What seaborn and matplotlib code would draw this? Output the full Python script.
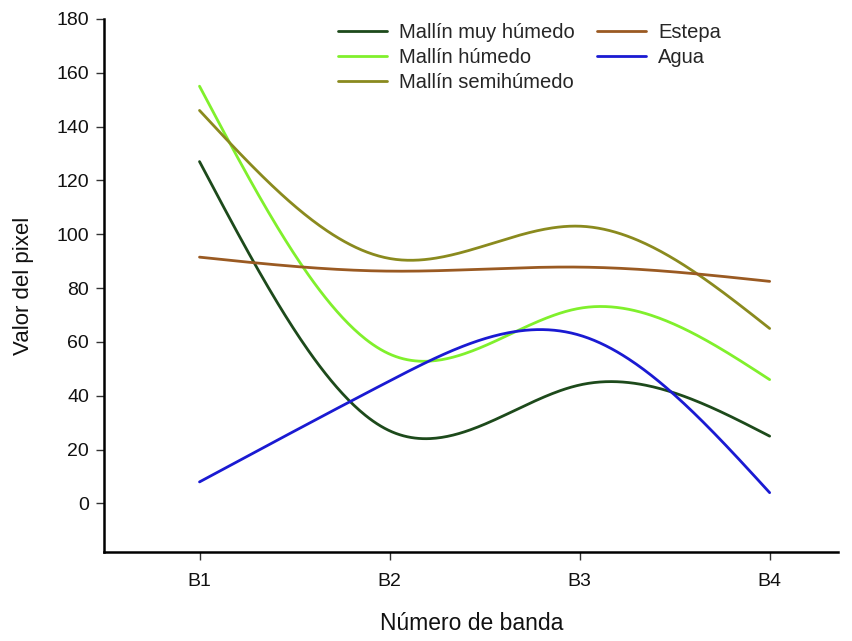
import numpy as np
import pandas as pd
import matplotlib
matplotlib.use("Agg")
import matplotlib.pyplot as plt
import seaborn as sns

bands = ["B1", "B2", "B3", "B4"]
series_names = ["Mallín muy húmedo", "Mallín húmedo", "Mallín semihúmedo", "Estepa", "Agua"]
muy_humedo = [127, 27, 44, 25]
humedo = [155, 55.5, 72.5, 46]
semihumedo = [146, 91, 103, 65]
estepa = [91.5, 86.3, 87.8, 82.5]
agua = [8, 45.5, 62.5, 4]
colors = ["#1d4a1b", "#80f02c", "#8a8a1e", "#9a5a22", "#1a1ad2"]


def natural_spline(x, y, n=300):
    x = np.asarray(x, float); y = np.asarray(y, float)
    k = len(x); h = np.diff(x)
    A = np.zeros((k, k)); r = np.zeros(k)
    A[0, 0] = A[-1, -1] = 1
    for i in range(1, k - 1):
        A[i, i - 1] = h[i - 1]; A[i, i] = 2 * (h[i - 1] + h[i]); A[i, i + 1] = h[i]
        r[i] = 6 * ((y[i + 1] - y[i]) / h[i] - (y[i] - y[i - 1]) / h[i - 1])
    M = np.linalg.solve(A, r)
    xs = np.linspace(x[0], x[-1], n)
    idx = np.clip(np.searchsorted(x, xs) - 1, 0, k - 2)
    x0, x1 = x[idx], x[idx + 1]; hh = x1 - x0
    ys = (M[idx] * (x1 - xs) ** 3 / (6 * hh) + M[idx + 1] * (xs - x0) ** 3 / (6 * hh)
          + (y[idx] / hh - M[idx] * hh / 6) * (x1 - xs)
          + (y[idx + 1] / hh - M[idx + 1] * hh / 6) * (xs - x0))
    return xs, ys


sns.set_style("white")
plt.rcParams["font.family"] = ["Liberation Sans", "DejaVu Sans"]

pos = np.arange(1, len(bands) + 1)
frames = []
for name, vals in zip(series_names, [muy_humedo, humedo, semihumedo, estepa, agua]):
    xs, ys = natural_spline(pos, vals)
    frames.append(pd.DataFrame({"x": xs, "y": ys, "serie": name}))
df = pd.concat(frames, ignore_index=True)

fig = plt.figure(figsize=(8.53, 6.41), dpi=100)
ax = fig.add_axes([0.1225, 0.139, 0.86, 0.8315])
sns.lineplot(data=df, x="x", y="y", hue="serie", hue_order=series_names,
             palette=colors, linewidth=2.0, ax=ax, sort=False, estimator=None)

ax.set_xlim(0.5, 4.36)
ax.set_ylim(-18, 180)
ax.set_xticks(pos)
ax.set_xticklabels(bands)
ax.set_yticks(np.arange(0, 181, 20))
ax.tick_params(axis="both", labelsize=14, direction="out", length=6, width=1,
               color="#333333", labelcolor="#111111", left=True, bottom=True, pad=5)
ax.tick_params(axis="x", pad=9)
for s in ["top", "right"]:
    ax.spines[s].set_visible(False)
for s in ["left", "bottom"]:
    ax.spines[s].set_linewidth(1.8)
    ax.spines[s].set_color("black")
ax.set_xlabel("Número de banda", fontsize=16.5, labelpad=16, color="#111111")
ax.set_ylabel("Valor del pixel", fontsize=16, labelpad=16, color="#111111")

ax.legend(ncol=2, loc="upper left", bbox_to_anchor=(0.293, 1.027), frameon=False,
          fontsize=14.5, handlelength=2.45, handletextpad=0.6, columnspacing=1.1,
          labelspacing=0.3)

fig.savefig("out.png", dpi=100, facecolor="white")
